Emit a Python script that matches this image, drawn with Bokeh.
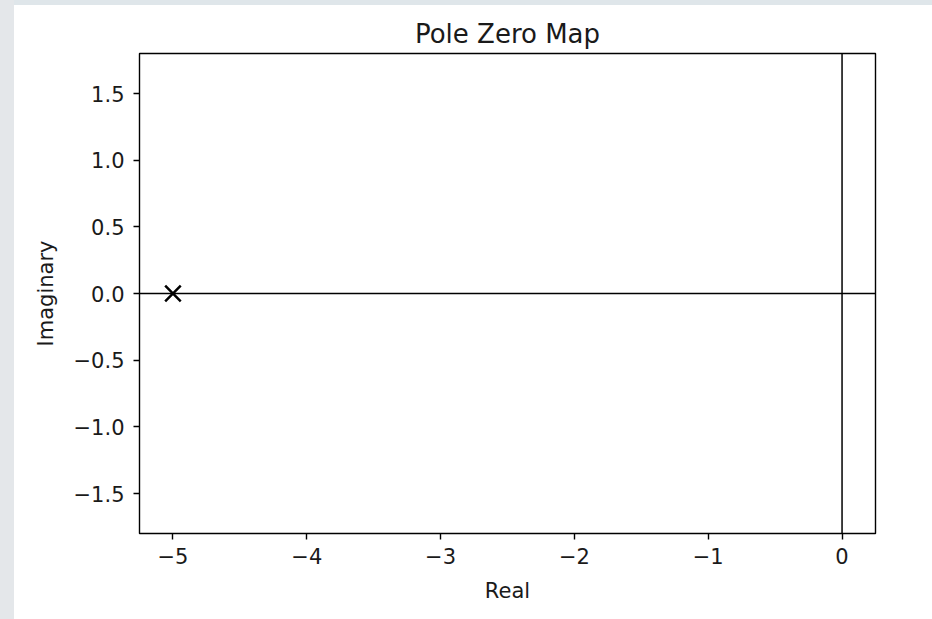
from bokeh.plotting import figure
from bokeh.models import FixedTicker, CustomJSTickFormatter, Span, Spacer, Range1d
from bokeh.layouts import row, column
from bokeh.embed import file_html
from bokeh.resources import INLINE

# ---- data ----
pole_real = [-5.0]
pole_imag = [0.0]
x_ticks = [-5, -4, -3, -2, -1, 0]
y_ticks = [-1.5, -1.0, -0.5, 0.0, 0.5, 1.0, 1.5]
title_text = "Pole Zero Map"
x_label = "Real"
y_label = "Imaginary"

FONT = "DejaVu Sans"
TXT = "#1a1a1a"

p = figure(width=910, height=600, output_backend="svg", toolbar_location=None,
           x_range=Range1d(-5.25, 0.25), y_range=Range1d(-1.8, 1.8),
           min_border_left=125, min_border_top=48, min_border_right=49, min_border_bottom=71,
           title=title_text)
p.background_fill_color = "white"
p.border_fill_color = "white"
p.outline_line_color = "black"
p.outline_line_width = 1.4
p.grid.visible = False

p.title.align = "center"
p.title.text_font = FONT
p.title.text_font_style = "normal"
p.title.text_font_size = "26px"
p.title.text_color = TXT
p.title.standoff = 9

for ax in (p.xaxis[0], p.yaxis[0]):
    ax.axis_line_color = None
    ax.major_tick_out = 6
    ax.major_tick_in = 0
    ax.major_tick_line_color = "black"
    ax.major_tick_line_width = 1.4
    ax.minor_tick_line_color = None
    ax.major_label_text_font = FONT
    ax.major_label_text_font_size = "21px"
    ax.major_label_text_color = TXT
    ax.axis_label_text_font = FONT
    ax.axis_label_text_font_size = "21px"
    ax.axis_label_text_font_style = "normal"
    ax.axis_label_text_color = TXT

p.xaxis.ticker = FixedTicker(ticks=x_ticks)
p.yaxis.ticker = FixedTicker(ticks=y_ticks)
p.xaxis.formatter = CustomJSTickFormatter(code="return (tick < 0 ? '\u2212' : '') + Math.abs(tick).toFixed(0);")
p.yaxis.formatter = CustomJSTickFormatter(code="return (tick < 0 ? '\u2212' : '') + Math.abs(tick).toFixed(1);")
p.xaxis.axis_label = x_label
p.yaxis.axis_label = y_label
p.xaxis.major_label_standoff = 8
p.yaxis.major_label_standoff = 9
p.xaxis.axis_label_standoff = 12
p.yaxis.axis_label_standoff = 13

p.add_layout(Span(location=0, dimension="width", line_color="black", line_width=1.5))
p.add_layout(Span(location=0, dimension="height", line_color="black", line_width=1.5))

p.scatter(pole_real, pole_imag, marker="x", size=22, line_color="black", line_width=2.5)

left_strip = Spacer(width=22, height=627, styles={"background-color": "#e4e7ea"})
top_strip = Spacer(width=918, height=13, styles={"background-color": "#dfe6ea"})
layout = row(left_strip, column(top_strip, p, spacing=0), spacing=0,
             styles={"margin-left": "-8px", "margin-top": "-8px"})

open("out.html", "w").write(file_html(layout, INLINE))
